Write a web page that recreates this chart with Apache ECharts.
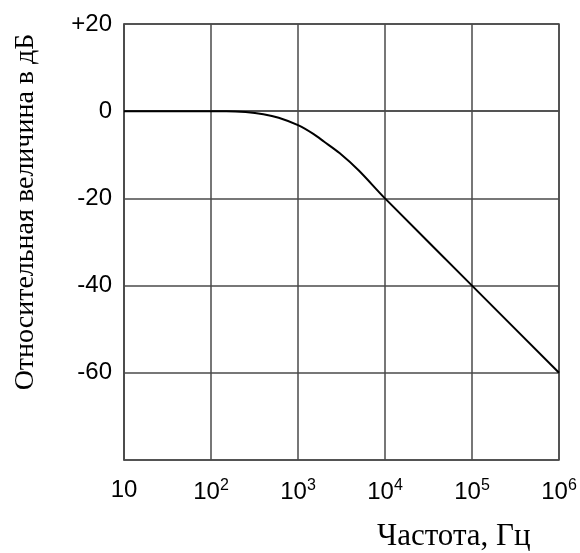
<!DOCTYPE html>
<html><head><meta charset="utf-8">
<script src="https://cdn.jsdelivr.net/npm/echarts@6/dist/echarts.min.js"></script>
<style>html,body{margin:0;padding:0;background:#fff}#c{width:580px;height:553px}</style>
</head><body><div id="c"></div>
<script>
const freqs = [10, 150, 250, 400, 600, 1000, 1500, 2000, 3000, 5000, 10000, 100000, 1000000];
const gainDb = [0, 0, -0.2, -0.7, -1.5, -3.2, -5.2, -7, -9.6, -13.6, -20, -40, -60];
const yTicks = [-80, -60, -40, -20, 0, 20];
const xTickLabels = {10: '10', 100: '10{s|2}', 1000: '10{s|3}', 10000: '10{s|4}', 100000: '10{s|5}', 1000000: '10{s|6}'};
const xTitle = 'Частота, Гц';
const yTitle = 'Относительная величина в дБ';

const chart = echarts.init(document.getElementById('c'));
const lineCol = '#4a4a4a';
chart.setOption({
  animation: false,
  grid: {left: 124, top: 24, right: 21, bottom: 93, show: false},
  xAxis: {
    type: 'log', logBase: 10, min: 10, max: 1000000,
    axisLine: {show: true, lineStyle: {color: lineCol, width: 1.5}},
    axisTick: {show: false},
    splitLine: {show: true, lineStyle: {color: lineCol, width: 1.5}},
    axisLabel: {
      margin: 18,
      formatter: v => xTickLabels[Math.round(v)] || '',
      color: '#000', fontFamily: 'Liberation Sans', fontSize: 24,
      rich: {s: {fontSize: 16, fontFamily: 'Liberation Sans', color: '#000', verticalAlign: 'top', padding: [0, 0, 12, 0]}}
    }
  },
  yAxis: {
    type: 'value', min: yTicks[0], max: yTicks[yTicks.length - 1], interval: 20,
    axisLine: {show: true, lineStyle: {color: lineCol, width: 1.5}},
    axisTick: {show: false},
    splitLine: {show: true, lineStyle: {color: lineCol, width: 1.5}},
    axisLabel: {
      margin: 12,
      formatter: v => v === 20 ? '+20' : (v === -80 ? '' : String(v)),
      color: '#000', fontFamily: 'Liberation Sans', fontSize: 24
    }
  },
  graphic: [
    {type: 'rect', shape: {x: 124, y: 24, width: 435, height: 436}, style: {fill: 'none', stroke: lineCol, lineWidth: 1.5}, z: 1},
    {type: 'text', left: 377, top: 521, style: {text: xTitle, font: '31px "Liberation Serif"', fill: '#000'}},
    {type: 'text', x: 26, y: 212, rotation: Math.PI / 2, style: {text: yTitle, font: '28px "Liberation Serif"', fill: '#000', align: 'center', verticalAlign: 'middle'}}
  ],
  series: [{
    type: 'line', data: freqs.map((f, i) => [f, gainDb[i]]),
    showSymbol: false, smooth: 0.3,
    lineStyle: {color: '#000', width: 2}
  }]
});
</script></body></html>
